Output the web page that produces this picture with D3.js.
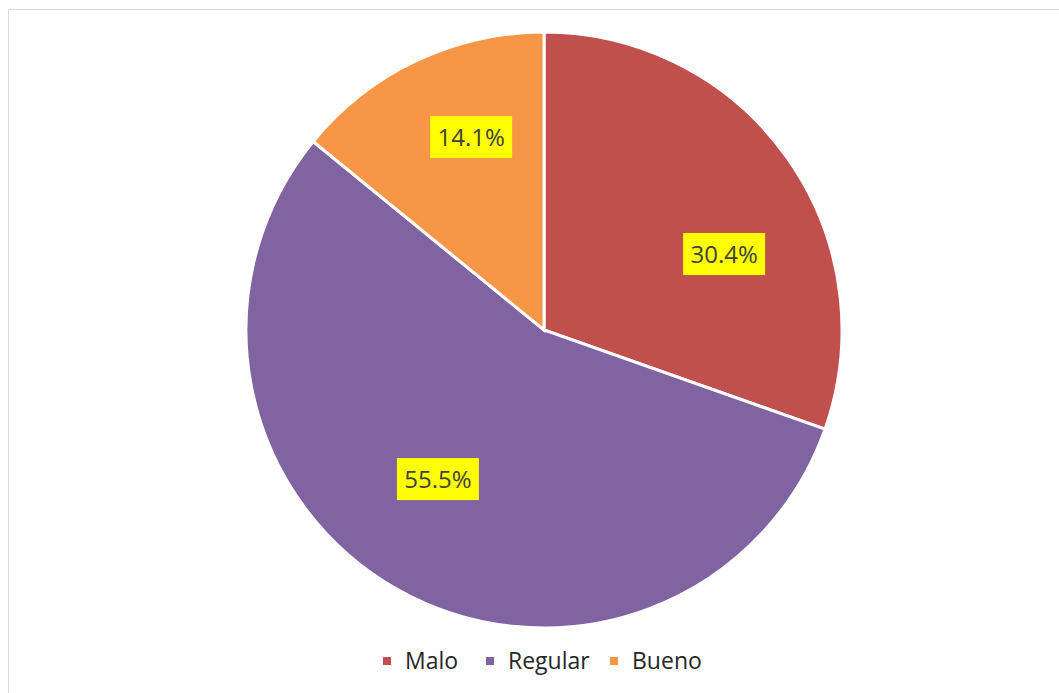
<!DOCTYPE html>
<html>
<head>
  <style>
    body {
      margin: 0;
      background: white;
    }
    text {
      font-family: "Open Sans", "Noto Sans", sans-serif;
    }
  </style>
</head>
<body>
  <div id="chart"></div>
  <script src="https://d3js.org/d3.v7.min.js"></script>
  <script>
  // data
  const categories = ["Malo", "Regular", "Bueno"];
  const values = [30.4, 55.5, 14.1];
  const labels = ["30.4%", "55.5%", "14.1%"];
  const colors = ["#C0504D", "#8064A2", "#F79646"];

  // where the spreadsheet put each label: fraction of radius, and turn past the slice middle (degrees)
  const labelRadius = [0.656, 0.614, 0.692];
  const labelTurn = [12.4, 6.1, 4.7];

  const width = 1059, height = 693;
  const cx = 544, cy = 330, radius = 298;

  const svg = d3.select("#chart")
    .append("svg")
      .attr("width", width)
      .attr("height", height);

  // faint chart-area border (only top and left show in the picture)
  svg.append("line")
    .attr("x1", 8.5).attr("y1", 9.5).attr("x2", width).attr("y2", 9.5)
    .attr("stroke", "#d9d9d9");
  svg.append("line")
    .attr("x1", 8.5).attr("y1", 9.5).attr("x2", 8.5).attr("y2", height)
    .attr("stroke", "#d9d9d9");

  const data = categories.map((c, i) => ({name: c, value: values[i], label: labels[i], color: colors[i]}));

  const pie = d3.pie()
    .sort(null)
    .value(d => d.value);

  const arc = d3.arc()
    .innerRadius(0)
    .outerRadius(radius);

  const g = svg.append("g")
    .attr("transform", "translate(" + cx + "," + cy + ")");

  const arcs = pie(data);

  g.selectAll("path")
    .data(arcs)
    .join("path")
      .attr("d", arc)
      .attr("fill", d => d.data.color)
      .attr("stroke", "white")
      .attr("stroke-width", 3);

  function labelPos(d, i) {
    const a = (d.startAngle + d.endAngle) / 2 + labelTurn[i] * Math.PI / 180;
    const r = radius * labelRadius[i];
    return [r * Math.sin(a), -r * Math.cos(a)];
  }

  const lab = g.selectAll("g.lab")
    .data(arcs)
    .join("g")
      .attr("class", "lab")
      .attr("transform", (d, i) => "translate(" + labelPos(d, i) + ")");

  lab.append("rect")
    .attr("x", -41)
    .attr("y", -21)
    .attr("width", 82)
    .attr("height", 42)
    .attr("fill", "#FFFF00");

  lab.append("text")
    .attr("text-anchor", "middle")
    .attr("dy", "0.36em")
    .attr("font-size", 24)
    .attr("fill", "#404040")
    .text(d => d.data.label);

  // legend
  const legendX = [383, 486, 610];
  const legend = svg.append("g")
    .attr("transform", "translate(0,661)");

  const item = legend.selectAll("g")
    .data(data)
    .join("g")
      .attr("transform", (d, i) => "translate(" + legendX[i] + ",0)");

  item.append("rect")
    .attr("x", 0)
    .attr("y", -4)
    .attr("width", 8)
    .attr("height", 8)
    .attr("fill", d => d.color);

  item.append("text")
    .attr("x", 22)
    .attr("dy", "0.36em")
    .attr("font-size", 23)
    .attr("fill", "#262626")
    .text(d => d.name);
  </script>
</body>
</html>
